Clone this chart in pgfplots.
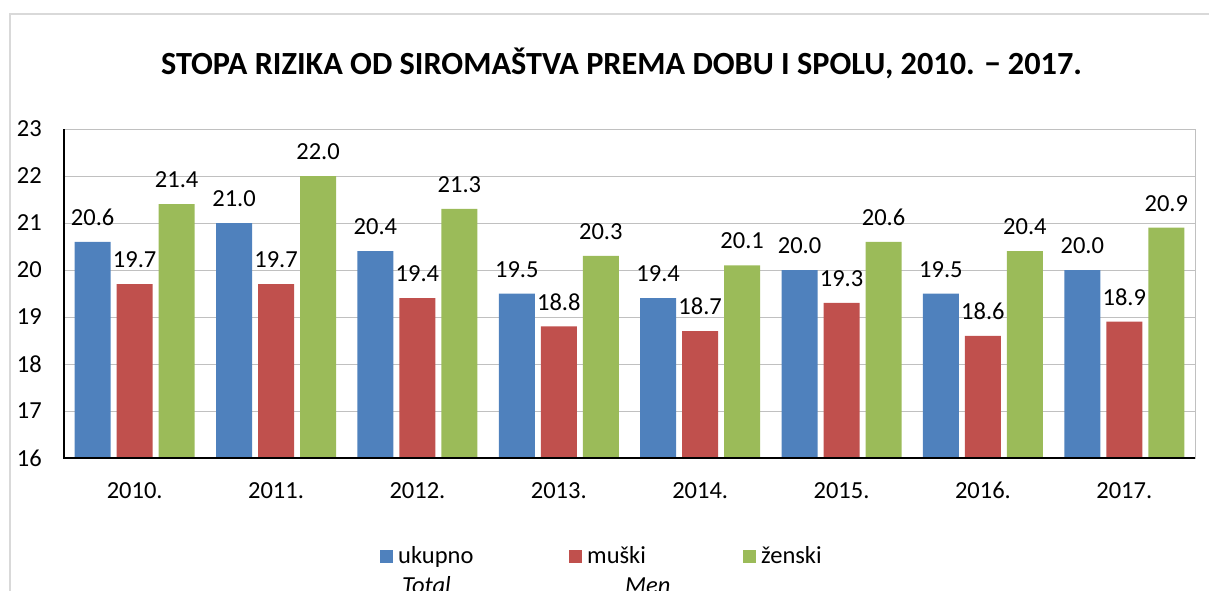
\documentclass[border=0pt]{standalone}
\usepackage{pgfplots}
\pgfplotsset{compat=1.18}
\usepackage{fontspec}
\setmainfont{Carlito}
\definecolor{cblue}{HTML}{4F81BD}
\definecolor{cred}{HTML}{C0504D}
\definecolor{cgreen}{HTML}{9BBB59}
\definecolor{gridc}{HTML}{C0C0C0}
\definecolor{framec}{HTML}{D9D9D9}
\newcommand{\bodyfont}{\fontsize{24.5}{28}\selectfont}
\begin{document}
\begin{tikzpicture}
\begin{axis}[
  at={(64pt,133pt)}, anchor=south west,
  scale only axis, width=1131pt, height=329pt,
  xmin=-0.5, xmax=7.5, ymin=16, ymax=23,
  xtick={0,...,7},
  xticklabels={2010.,2011.,2012.,2013.,2014.,2015.,2016.,2017.},
  ytick={16,...,23},
  ymajorgrids, major grid style={gridc, line width=0.8pt},
  major tick length=0pt,
  axis line style={gridc, line width=0.8pt},
  tick label style={font=\bodyfont},
  /pgf/number format/assume math mode=true,
  yticklabel style={anchor=east, inner sep=0pt, xshift=-22pt},
  xticklabel style={anchor=north, inner sep=0pt, yshift=-24pt},
  ybar, bar width=36pt,
  clip=false,
  nodes near coords={\pgfmathprintnumber[fixed,fixed zerofill,precision=1,assume math mode=true]{\pgfplotspointmeta}},
  every node near coord/.append style={font=\bodyfont, inner sep=0pt, anchor=south, yshift=16pt, black},
  legend columns=3,
  legend style={at={(axis description cs:0.2794,-0.298)}, anchor=west, draw=none, fill=none, inner sep=0pt,
    font=\bodyfont, /tikz/every odd column/.style={column sep=5pt}, nodes={inner sep=0pt}},
  legend cell align=left,
]
\addplot[fill=cblue, draw=none, bar shift=-42pt,
  legend image code/.code={\fill[cblue] (0pt,-6.5pt) rectangle (13pt,6.5pt);}]
  coordinates {(0,20.6) (1,21.0) (2,20.4) (3,19.5) (4,19.4) (5,20.0) (6,19.5) (7,20.0)};
\addlegendentry{\makebox[171pt][l]{ukupno}}
\addplot[fill=cred, draw=none, bar shift=0pt,
  legend image code/.code={\fill[cred] (0pt,-6.5pt) rectangle (13pt,6.5pt);}]
  coordinates {(0,19.7) (1,19.7) (2,19.4) (3,18.8) (4,18.7) (5,19.3) (6,18.6) (7,18.9)};
\addlegendentry{\makebox[156pt][l]{muški}}
\addplot[fill=cgreen, draw=none, bar shift=42pt,
  legend image code/.code={\fill[cgreen] (0pt,-6.5pt) rectangle (13pt,6.5pt);}]
  coordinates {(0,21.4) (1,22.0) (2,21.3) (3,20.3) (4,20.1) (5,20.6) (6,20.4) (7,20.9)};
\addlegendentry{ženski}
\draw[black, line width=1.8pt] (rel axis cs:0,1) -- (rel axis cs:0,0) -- (rel axis cs:1,0);
\end{axis}
\draw[framec, line width=2pt] (10pt,-20pt) -- (10pt,577pt) -- (1240pt,577pt);
\node[anchor=base, font=\fontsize{32.3}{38}\selectfont\bfseries] at (621.5pt,516pt)
  {STOPA RIZIKA OD SIROMAŠTVA PREMA DOBU I SPOLU, 2010. − 2017.};
\node[anchor=base west, inner sep=0pt, font=\bodyfont\itshape] at (402pt,-3pt) {Total};
\node[anchor=base west, inner sep=0pt, font=\bodyfont\itshape] at (625pt,-3pt) {Men};
\pgfresetboundingbox
\useasboundingbox (0,0) rectangle (1209pt,591pt);
\end{tikzpicture}
\end{document}
